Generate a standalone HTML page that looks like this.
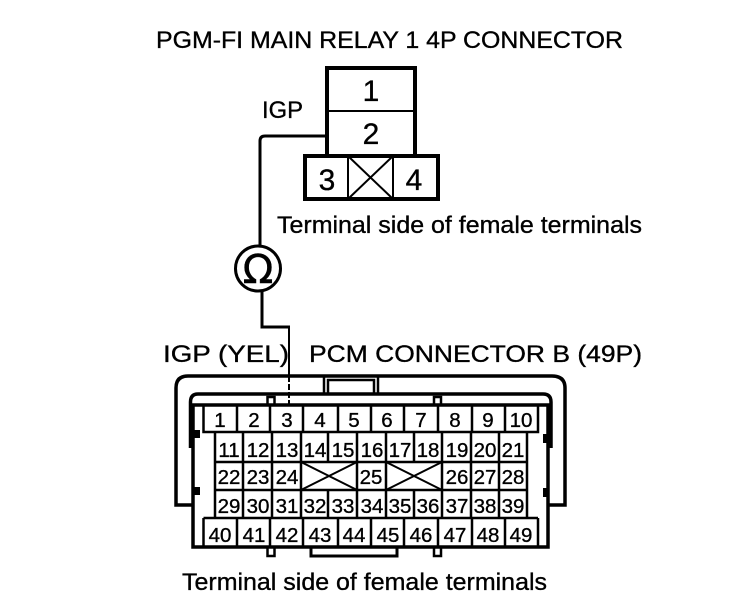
<!DOCTYPE html>
<html>
<head>
<meta charset="utf-8">
<style>
html,body{margin:0;padding:0;background:#fff;width:752px;height:596px;overflow:hidden}
svg{display:block}
text{font-family:"Liberation Sans",sans-serif;fill:#000;stroke:#000;stroke-width:.35px}
.t{font-size:24px}
.n{font-size:20.500px;text-anchor:middle}
.b{font-size:30px;text-anchor:middle}
</style>
</head>
<body>
<svg width="752" height="596" viewBox="0 0 752 596" xmlns="http://www.w3.org/2000/svg">
<text class="t" x="156" y="48" textLength="467" lengthAdjust="spacingAndGlyphs">PGM-FI MAIN RELAY 1 4P CONNECTOR</text>
<text class="t" x="262" y="118" textLength="41" lengthAdjust="spacingAndGlyphs">IGP</text>
<text class="t" x="277" y="233" textLength="365" lengthAdjust="spacingAndGlyphs">Terminal side of female terminals</text>
<text class="t" x="163" y="362" textLength="126" lengthAdjust="spacingAndGlyphs">IGP (YEL)</text>
<text class="t" x="309" y="362" textLength="333" lengthAdjust="spacingAndGlyphs">PCM CONNECTOR B (49P)</text>
<text class="t" x="182" y="590" textLength="365" lengthAdjust="spacingAndGlyphs">Terminal side of female terminals</text>

<g fill="none" stroke="#000">
<!-- relay connector -->
<path d="M327 156V68H415V156" stroke-width="4"/>
<path d="M327 111H415" stroke-width="2"/>
<rect x="305" y="156" width="133" height="43" stroke-width="4"/>
<path d="M348 156V199M393 156V199M348 199L393 156M348 156L393 199" stroke-width="2"/>
<!-- wire -->
<path d="M327 136H265Q260 136 260 141V246" stroke-width="3"/>
<circle cx="258" cy="268.500" r="22.500" stroke-width="3"/>
<path d="M262 291V327H290" stroke-width="3"/>
<path d="M289 328V376" stroke-width="2"/>
<path d="M289 376V405" stroke-width="2" stroke-dasharray="6 2"/>

<!-- outer shell -->
<path d="M193 505H176V388Q176 376 188 376H552Q565 376 565 388V505H548" stroke-width="3.500"/>
<path d="M324 376V393M378 376V393" stroke-width="2.500"/>
<path d="M328 393V380H374V393" stroke-width="2.500"/>
<path d="M190.500 448V402Q190.500 394 198 394H543Q551 394 551 402V448" stroke-width="3.500"/>
<!-- main body -->
<path d="M193 405H548V547H193Z" stroke-width="3.500"/>
<!-- tabs -->
<path d="M267.500 405V397H274.500V405M434 405V397H441V405M267.500 547V556H274.500V547M434 547V556H441V547" stroke-width="2.500"/>
<path d="M311 547V556H397V547" stroke-width="3"/>

<!-- row 1 -->
<path d="M203.500 405V432H538V405" stroke-width="2.500"/>
<path d="M237 405V432M270 405V432M303 405V432M338 405V432M371 405V432M404 405V432M438 405V432M472 405V432M505 405V432" stroke-width="2.500"/>
<!-- rows 2-4 -->
<path d="M215 432V518M527 432V518M215 462H527M215 490H527" stroke-width="2.500"/>
<path d="M243 432V518M272 432V518M301 432V518M328 432V462M328 490V518M357 432V518M386 432V518M414 432V462M414 490V518M442 432V518M471 432V518M499 432V518" stroke-width="2.500"/>
<path d="M301 490L357 462M301 462L357 490M386 490L442 462M386 462L442 490" stroke-width="2"/>
<!-- row 5 -->
<path d="M203.500 518H538M203.500 518V547M538 518V547" stroke-width="2.500"/>
<path d="M237 518V547M270 518V547M303 518V547M338 518V547M371 518V547M404 518V547M438 518V547M472 518V547M505 518V547" stroke-width="2.500"/>
</g>
<g fill="#000">
<rect x="194" y="430" width="6" height="8"/>
<rect x="194" y="487" width="6" height="8"/>
<rect x="543" y="434" width="5" height="9"/>
<rect x="543" y="488" width="5" height="9"/>
</g>

<text class="b" x="371" y="101">1</text>
<text class="b" x="371" y="144">2</text>
<text class="b" x="327" y="190">3</text>
<text class="b" x="414" y="190">4</text>
<text x="258" y="283" text-anchor="middle" style="font-family:'DejaVu Sans',sans-serif;font-size:40px;stroke-width:.5px">Ω</text>

<g>
<text class="n" x="220" y="427">1</text><text class="n" x="254" y="427">2</text><text class="n" x="287" y="427">3</text><text class="n" x="320" y="427">4</text><text class="n" x="354" y="427">5</text><text class="n" x="387" y="427">6</text><text class="n" x="421" y="427">7</text><text class="n" x="455" y="427">8</text><text class="n" x="488" y="427">9</text><text class="n" x="521" y="427">10</text>
<text class="n" x="229" y="457">11</text><text class="n" x="258" y="457">12</text><text class="n" x="287" y="457">13</text><text class="n" x="315" y="457">14</text><text class="n" x="343" y="457">15</text><text class="n" x="372" y="457">16</text><text class="n" x="400" y="457">17</text><text class="n" x="428" y="457">18</text><text class="n" x="457" y="457">19</text><text class="n" x="485" y="457">20</text><text class="n" x="513" y="457">21</text>
<text class="n" x="229" y="484">22</text><text class="n" x="258" y="484">23</text><text class="n" x="287" y="484">24</text><text class="n" x="371" y="484">25</text><text class="n" x="457" y="484">26</text><text class="n" x="485" y="484">27</text><text class="n" x="513" y="484">28</text>
<text class="n" x="229" y="513">29</text><text class="n" x="258" y="513">30</text><text class="n" x="287" y="513">31</text><text class="n" x="315" y="513">32</text><text class="n" x="343" y="513">33</text><text class="n" x="372" y="513">34</text><text class="n" x="400" y="513">35</text><text class="n" x="428" y="513">36</text><text class="n" x="457" y="513">37</text><text class="n" x="485" y="513">38</text><text class="n" x="513" y="513">39</text>
<text class="n" x="220" y="542">40</text><text class="n" x="254" y="542">41</text><text class="n" x="287" y="542">42</text><text class="n" x="320" y="542">43</text><text class="n" x="354" y="542">44</text><text class="n" x="388" y="542">45</text><text class="n" x="421" y="542">46</text><text class="n" x="455" y="542">47</text><text class="n" x="488" y="542">48</text><text class="n" x="521" y="542">49</text>
</g>
</svg>
</body>
</html>
